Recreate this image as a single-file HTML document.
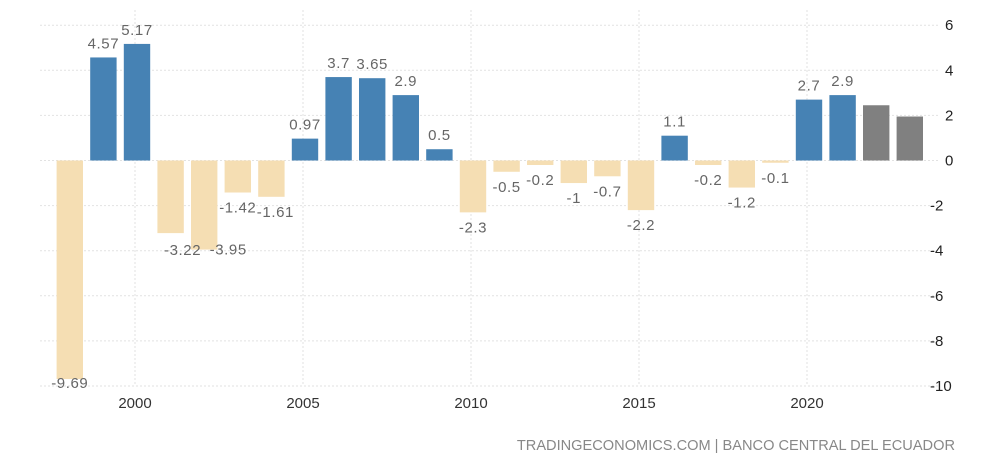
<!DOCTYPE html>
<html><head><meta charset="utf-8"><style>
body{margin:0;background:#fff;}
svg{display:block;font-family:"Liberation Sans",sans-serif;}
</style></head><body>
<svg width="1000" height="472" xmlns="http://www.w3.org/2000/svg">
<g id="grid" stroke="#e2e2e2" stroke-dasharray="2,2" stroke-width="1"></g>
<g id="bars"></g>
<g id="labels" fill="#666" font-size="15" text-anchor="middle" letter-spacing="0.6"></g>
<g id="yl" fill="#222" font-size="15"></g>
<g id="xl" fill="#333" font-size="15" text-anchor="middle"></g>
<text x="955" y="450" text-anchor="end" font-size="14.6" fill="#888">TRADINGECONOMICS.COM | BANCO CENTRAL DEL ECUADOR</text>
</svg>
<script>
const NS="http://www.w3.org/2000/svg";
function el(p,t,a,txt){const e=document.createElementNS(NS,t);for(const k in a)e.setAttribute(k,a[k]);if(txt!==undefined)e.textContent=txt;document.getElementById(p).appendChild(e);}
const y0=160.5,u=22.55;const Y=v=>y0-v*u;const X=yr=>137+(yr-2000)*33.6;
for(let v=-10;v<=6;v+=2){el('grid','line',{x1:40,x2:940,y1:Y(v),y2:Y(v)});el('yl','text',{x:(v<0?930:945),y:Y(v)+5},String(v));}
for(let yr=2000;yr<=2020;yr+=5){el('grid','line',{x1:X(yr)-2,x2:X(yr)-2,y1:10,y2:Y(-10)});el('xl','text',{x:X(yr)-2,y:408},String(yr));}
const d=[[1998,-9.69],[1999,4.57],[2000,5.17],[2001,-3.22],[2002,-3.95],[2003,-1.42],[2004,-1.61],[2005,0.97],[2006,3.7],[2007,3.65],[2008,2.9],[2009,0.5],[2010,-2.3],[2011,-0.5],[2012,-0.2],[2013,-1],[2014,-0.7],[2015,-2.2],[2016,1.1],[2017,-0.2],[2018,-1.2],[2019,-0.1],[2020,2.7],[2021,2.9],[2022,2.45,1],[2023,1.95,1]];
const off={1998:[0,-11],2001:[12,2],2002:[24,-15],2004:[4,0]};
for(const [yr,v,g] of d){const c=X(yr);const top=Math.min(Y(v),y0),h=Math.abs(Y(v)-y0);
el('bars','rect',{x:c-13.2,y:top,width:26.4,height:Math.max(h,1),fill:g?'#808080':(v>=0?'#4682b4':'#f5deb3')});
const o=off[yr]||[0,0];
if(!g){el('labels','text',{x:c+o[0],y:(v>=0?Y(v)-9:Y(v)+20)+o[1]},String(v));}}
</script>
</body></html>
